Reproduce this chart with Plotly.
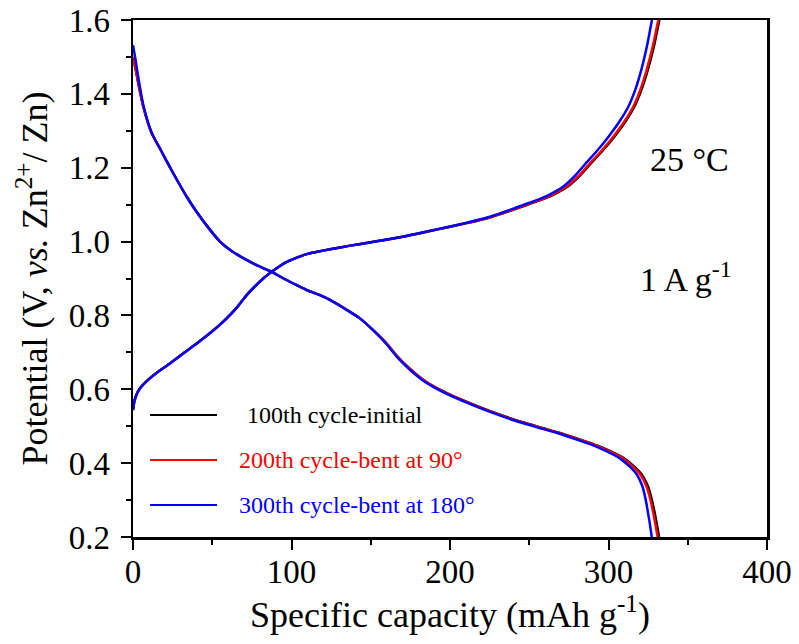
import plotly.graph_objects as go

# ---------------- data ----------------
# Discharge branches (capacity mAh/g, potential V)
dis_100_x = [0, 1.5, 3.5, 6.5, 11.8, 17, 21.2, 25.4, 33.8, 40.2, 48, 54.9, 62, 69.6, 78, 87.5, 95, 103.3, 110, 118,
             124.3, 133, 143.2, 152, 160, 167, 174.8, 183, 191.6, 200.4, 213, 228.5, 244.8, 257.6, 270, 282.7, 292.8,
             301.8, 309.8, 316.4, 320.9, 325, 327.4, 329.2, 330.7, 331.9]
dis_100_v = [1.50, 1.47, 1.425, 1.365, 1.293, 1.252, 1.218, 1.185, 1.122, 1.080, 1.035, 1.0, 0.975, 0.955, 0.936,
             0.918, 0.9, 0.882, 0.868, 0.855, 0.842, 0.82, 0.792, 0.758, 0.724, 0.688, 0.655, 0.626, 0.603, 0.585,
             0.562, 0.536, 0.512, 0.496, 0.481, 0.463, 0.448, 0.431, 0.413, 0.39, 0.37, 0.336, 0.30, 0.264, 0.23, 0.20]

dis_200_x = [0, 1.5, 3.5, 6.5, 11.8, 17, 21.2, 25.4, 33.8, 40.2, 48, 54.9, 62, 69.6, 78, 87.5, 95, 103.3, 110, 118,
             124.3, 133, 143.2, 152, 160, 167, 174.8, 183, 191.6, 200, 212.6, 228, 244.2, 257, 269.4, 282, 292,
             301, 309, 315.6, 320, 324.1, 326.5, 328.3, 329.8, 331]
dis_200_v = [1.50, 1.47, 1.425, 1.365, 1.293, 1.252, 1.218, 1.185, 1.122, 1.080, 1.035, 1.0, 0.975, 0.955, 0.936,
             0.918, 0.9, 0.882, 0.868, 0.855, 0.842, 0.82, 0.792, 0.758, 0.724, 0.688, 0.655, 0.626, 0.603, 0.585,
             0.562, 0.536, 0.512, 0.496, 0.481, 0.463, 0.448, 0.431, 0.413, 0.39, 0.37, 0.336, 0.30, 0.264, 0.23, 0.20]

dis_300_x = [0, 1.5, 3.5, 6.5, 11.8, 17, 21.2, 25.4, 33.8, 40.2, 48, 54.9, 62, 69.6, 78, 87.5, 95, 103.3, 110, 118,
             124.3, 133, 143.2, 152, 159.6, 166.5, 174.2, 182.3, 190.9, 199.2, 211.7, 227, 243.1, 255.8, 268.1,
             280.5, 290.4, 299.3, 307.1, 313.6, 317.8, 321.5, 323.5, 325, 326.3, 327.3]
dis_300_v = [1.532, 1.495, 1.44, 1.37, 1.295, 1.252, 1.218, 1.185, 1.122, 1.080, 1.035, 1.0, 0.975, 0.955, 0.936,
             0.918, 0.9, 0.882, 0.868, 0.855, 0.842, 0.82, 0.792, 0.758, 0.724, 0.688, 0.655, 0.626, 0.603, 0.585,
             0.562, 0.536, 0.512, 0.496, 0.481, 0.463, 0.448, 0.431, 0.413, 0.39, 0.37, 0.336, 0.30, 0.264, 0.23, 0.20]

# Charge branches
chg_100_x = [0, 0.8, 2, 4, 8.6, 15, 23.3, 31, 40.2, 50, 59.1, 66, 71.7, 77, 82.2, 87.5, 92, 97, 103, 109.6, 117,
             124.3, 137, 150, 170, 190.2, 210.7, 225.7, 236.5, 245.7, 255.7, 265.7, 274.3, 281.7, 289, 296.7,
             303.7, 310.7, 316.3, 320.7, 324.8, 328.7, 332.1]
chg_200_x = [0, 0.8, 2, 4, 8.6, 15, 23.3, 31, 40.2, 50, 59.1, 66, 71.7, 77, 82.2, 87.5, 92, 97, 103, 109.6, 117,
             124.3, 137, 150, 170, 189.5, 210, 225, 235.8, 245, 255, 265, 273.6, 281, 288.3, 296, 303, 310,
             315.6, 320, 324.1, 328, 331.4]
chg_300_x = [0, 0.8, 2, 4, 8.6, 15, 23.3, 31, 40.2, 50, 59.1, 66, 71.7, 77, 82.2, 87.5, 92, 97, 103, 109.6, 117,
             124.3, 137, 150, 170, 189.3, 209.3, 224, 234.6, 243.6, 253.4, 263.1, 271.5, 278.6, 285.7, 293.2,
             300, 306.9, 312.5, 316.8, 320.7, 324.3, 327.4]
chg_v = [0.544, 0.566, 0.583, 0.600, 0.622, 0.645, 0.670, 0.695, 0.724, 0.757, 0.792, 0.824, 0.855, 0.879, 0.90,
         0.918, 0.932, 0.945, 0.956, 0.966, 0.973, 0.979, 0.989, 0.998, 1.013, 1.031, 1.050, 1.066, 1.081, 1.095,
         1.11, 1.128, 1.149, 1.177, 1.212, 1.248, 1.284, 1.325, 1.365, 1.41, 1.465, 1.53, 1.60]

series_names = ["100th cycle-initial", "200th cycle-bent at 90°", "300th cycle-bent at 180°"]
series_colors = ["#000000", "#ff0000", "#0000ff"]

x_ticks = [0, 100, 200, 300, 400]
y_ticks = [0.2, 0.4, 0.6, 0.8, 1.0, 1.2, 1.4, 1.6]

FONT = "Liberation Serif, Times New Roman, serif"

fig = go.Figure()
branches = [
    (dis_100_x, dis_100_v, chg_100_x, chg_v),
    (dis_200_x, dis_200_v, chg_200_x, chg_v),
    (dis_300_x, dis_300_v, chg_300_x, chg_v),
]
for (dx, dv, cx, cv), name, col in zip(branches, series_names, series_colors):
    fig.add_trace(go.Scatter(x=dx, y=dv, mode="lines", name=name, showlegend=False, hoverinfo="skip",
                             line=dict(color=col, width=2.5, shape="spline", smoothing=0.6)))
    fig.add_trace(go.Scatter(x=cx, y=cv, mode="lines", name=name, showlegend=False, hoverinfo="skip",
                             line=dict(color=col, width=2.5, shape="spline", smoothing=0.6)))

# manual legend (line sample + label)
leg_rows = [0.236, 0.149, 0.062]
leg_text_x = [0.176, 0.164, 0.164]
for name, col, yy, tx in zip(series_names, series_colors, leg_rows, leg_text_x):
    fig.add_shape(type="line", xref="paper", yref="paper", x0=0.027, x1=0.1325, y0=yy, y1=yy,
                  line=dict(color=col, width=2))
    fig.add_annotation(xref="paper", yref="paper", x=tx, y=yy, text=name, showarrow=False,
                       xanchor="left", yanchor="middle", font=dict(family=FONT, size=24, color=col))

fig.add_annotation(xref="paper", yref="paper", x=0.877, y=0.731, text="25 °C", showarrow=False,
                   xanchor="center", yanchor="middle", font=dict(family=FONT, size=34, color="black"))
fig.add_annotation(xref="paper", yref="paper", x=0.872, y=0.503, text="1 A g<sup>-1</sup>", showarrow=False,
                   xanchor="center", yanchor="middle", font=dict(family=FONT, size=34, color="black"))

axis_common = dict(showline=True, linecolor="black", linewidth=2.5, mirror=True, ticks="outside",
                   ticklen=10, tickwidth=2, tickcolor="black", showgrid=False, zeroline=False,
                   tickfont=dict(family=FONT, size=33, color="black"))

fig.update_xaxes(range=[0, 400], tickvals=x_ticks, ticktext=[str(v) for v in x_ticks],
                 minor=dict(dtick=50, tick0=0, ticks="outside", ticklen=5, tickwidth=2, tickcolor="black"),
                 title=dict(text="Specific capacity (mAh g<sup>-1</sup>)", standoff=8,
                            font=dict(family=FONT, size=36, color="black")),
                 ticklabelstandoff=-6, **axis_common)
fig.update_yaxes(range=[0.2, 1.6], tickvals=y_ticks, ticktext=[f"{v:.1f}" for v in y_ticks],
                 minor=dict(dtick=0.1, tick0=0.2, ticks="outside", ticklen=5, tickwidth=2, tickcolor="black"),
                 title=dict(text="Potential (V, <i>vs.</i> Zn<sup>2+</sup>/ Zn)", standoff=10,
                            font=dict(family=FONT, size=36, color="black")),
                 ticklabelstandoff=4, **axis_common)

fig.update_layout(width=799, height=644, margin=dict(l=133, r=32, t=20, b=107, autoexpand=False),
                  plot_bgcolor="white", paper_bgcolor="white", font=dict(family=FONT, color="black"))

fig.write_html("out.html", config={"displayModeBar": False, "staticPlot": True},
               post_script="document.body.style.margin='0';document.body.style.overflow='hidden';")
